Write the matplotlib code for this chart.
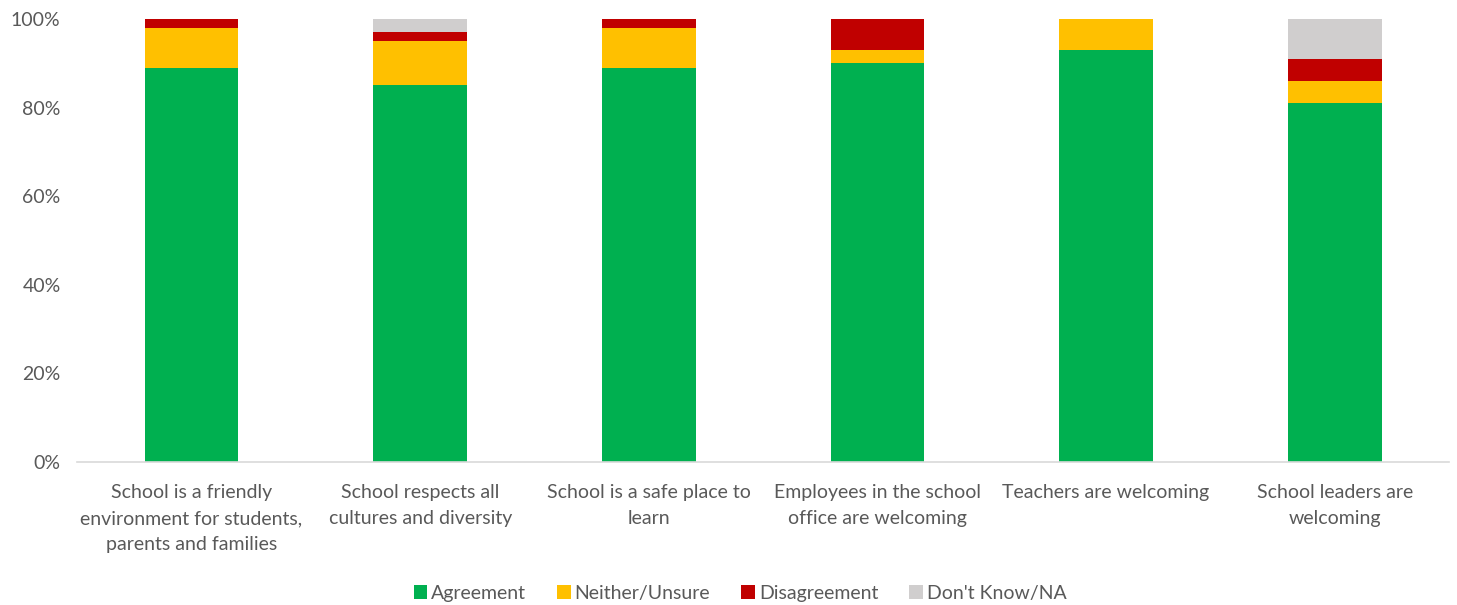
import numpy as np
import matplotlib.pyplot as plt
from matplotlib.ticker import PercentFormatter

categories = [
    "School is a friendly\nenvironment for students,\nparents and families",
    "School respects all\ncultures and diversity",
    "School is a safe place to\nlearn",
    "Employees in the school\noffice are welcoming",
    "Teachers are welcoming",
    "School leaders are\nwelcoming",
]
agreement = [89, 85, 89, 90, 93, 81]
neither = [9, 10, 9, 3, 7, 5]
disagreement = [2, 2, 2, 7, 0, 5]
dont_know = [0, 3, 0, 0, 0, 9]

series = [
    ("Agreement", agreement, "#00B050"),
    ("Neither/Unsure", neither, "#FFC000"),
    ("Disagreement", disagreement, "#C00000"),
    ("Don't Know/NA", dont_know, "#D0CECE"),
]

plt.rcParams['font.family'] = ['Lato', 'DejaVu Sans']
text_color = "#595959"

fig = plt.figure(figsize=(14.57, 6.05), dpi=100)
ax = fig.add_axes([0.053, 0.2364, 0.9415, 0.7322])

x = np.arange(len(categories))
bottom = np.zeros(len(categories))
for name, vals, color in series:
    vals = np.array(vals, dtype=float)
    ax.bar(x, vals, 0.41, bottom=bottom, color=color, label=name, zorder=2)
    bottom += vals

ax.set_xlim(-0.5, len(categories) - 0.5)
ax.set_ylim(0, 100)
ax.set_yticks([0, 20, 40, 60, 80, 100])
ax.yaxis.set_major_formatter(PercentFormatter(decimals=0))
ax.set_xticks(x)
ax.set_xticklabels(categories, fontsize=14, color=text_color, linespacing=1.63)
ax.tick_params(axis='y', labelsize=14, labelcolor=text_color, length=0, pad=12)
ax.tick_params(axis='x', length=0, pad=16)

for side in ['top', 'right', 'left']:
    ax.spines[side].set_visible(False)
ax.spines['bottom'].set_color("#D9D9D9")
ax.spines['bottom'].set_linewidth(1.2)

leg = fig.legend(loc='lower center', bbox_to_anchor=(0.508, -0.024), ncol=4, frameon=False,
                 fontsize=14, handlelength=0.7, handleheight=0.7, handletextpad=0.2,
                 columnspacing=1.6)
for t in leg.get_texts():
    t.set_color(text_color)

fig.savefig("out.png", dpi=100)
